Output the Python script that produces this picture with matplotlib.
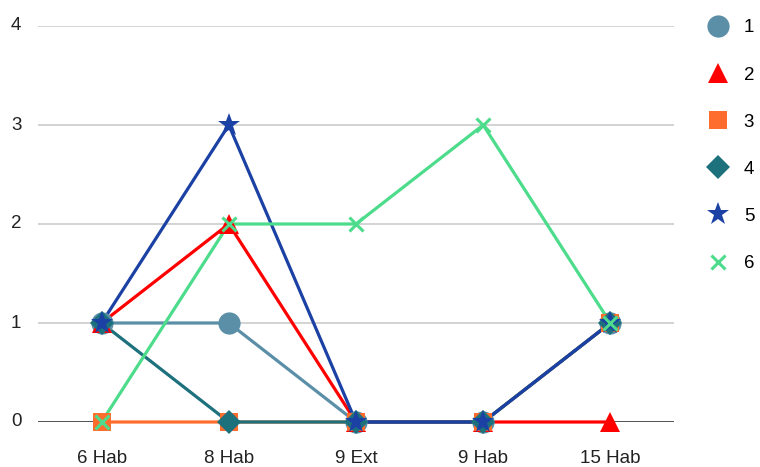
import matplotlib
matplotlib.use("Agg")
import matplotlib.pyplot as plt
from matplotlib.lines import Line2D

plt.rcParams['font.family'] = ['Liberation Sans', 'DejaVu Sans']

categories = ['6 Hab', '8 Hab', '9 Ext', '9 Hab', '15 Hab']
series_names = ['1', '2', '3', '4', '5', '6']
s1 = [1, 1, 0, 0, 1]
s2 = [1, 2, 0, 0, 0]
s3 = [0, 0, 0, 0, 1]
s4 = [1, 0, 0, 0, 1]
s5 = [1, 3, 0, 0, 1]
s6 = [0, 2, 2, 3, 1]
y_ticks = [0, 1, 2, 3, 4]

colors = ['#5b8fa8', '#ff0000', '#ff6d2e', '#1d717d', '#1a41a3', '#4cdc8b']
markers = ['o', '^', 's', 'D', '*', 'x']
msizes = [16, 15, 13, 12, 17, 10]

fig = plt.figure(figsize=(7.6, 4.67), dpi=100)
ax = fig.add_axes([38 / 760, 45 / 467, 636 / 760, 396 / 467])

x = list(range(len(categories)))
all_series = [s1, s2, s3, s4, s5, s6]

for i, (vals, c) in enumerate(zip(all_series, colors)):
    ax.plot(x, vals, color=c, lw=2.3, zorder=2 + i * 0.01, clip_on=False)
for i, (vals, c, m, ms) in enumerate(zip(all_series, colors, markers, msizes)):
    mew = 2.2 if m == 'x' else 0
    ax.plot(x, vals, ls='none', marker=m, ms=ms, color=c, mew=mew, mec=c,
            zorder=3 + i * 0.01, clip_on=False)

ax.set_xlim(-0.5, len(categories) - 0.5)
ax.set_ylim(0, 4)
ax.set_yticks(y_ticks)
ax.set_xticks(x)
ax.set_xticklabels(categories)
ax.tick_params(length=0, labelsize=13.5, labelcolor='#222222')
ax.tick_params(axis='x', pad=20)
ax.tick_params(axis='y', pad=12)
for t in y_ticks[1:]:
    ax.axhline(t, color='#cccccc', lw=1.2, zorder=0)
ax.axhline(0, color='#333333', lw=1.2, zorder=1)
for sp in ax.spines.values():
    sp.set_visible(False)
for lbl in ax.get_yticklabels():
    lbl.set_verticalalignment('center')

handles = [Line2D([], [], ls='none', marker=m, color=c, ms=ms, mew=(2.2 if m == 'x' else 0), mec=c)
           for c, m, ms in zip(colors, markers, msizes)]
leg = fig.legend(handles, series_names, loc='upper left', bbox_to_anchor=(695 / 760, 1 - 10 / 467),
                 frameon=False, fontsize=13.5, labelspacing=1.6, handlelength=1.4,
                 handletextpad=0.7, borderpad=0)

fig.savefig('out.png', dpi=100, facecolor='white')
